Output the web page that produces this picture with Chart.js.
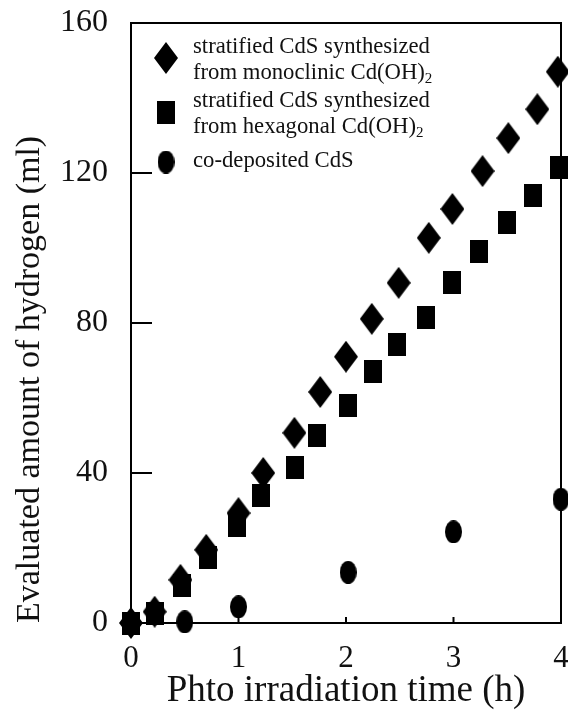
<!DOCTYPE html>
<html>
<head>
<meta charset="utf-8">
<script src="https://cdn.jsdelivr.net/npm/chart.js@4/dist/chart.umd.min.js"></script>
<style>
  html, body { margin: 0; padding: 0; background: #fff; }
  #wrap { width: 568px; height: 712px; }
</style>
</head>
<body>
<div id="wrap"><canvas id="chart" width="568" height="712"></canvas></div>
<script>
// values (time in h, hydrogen in ml)
const monoTime = [0, 0.22, 0.46, 0.7, 1.0, 1.23, 1.52, 1.76, 2.0, 2.24, 2.49, 2.77, 2.99, 3.27, 3.51, 3.78, 3.97];
const monoH2 = [0, 3, 11.5, 19.5, 29.3, 40, 50.7, 61.6, 71, 81.1, 90.7, 102.7, 110.4, 120.5, 129.3, 137, 147];
const hexTime = [0, 0.22, 0.47, 0.72, 0.99, 1.21, 1.53, 1.73, 2.02, 2.25, 2.47, 2.74, 2.99, 3.24, 3.5, 3.74, 3.98];
const hexH2 = [0, 2.5, 10.1, 17.6, 26.1, 34.1, 41.5, 50.1, 58.1, 67.2, 74.4, 81.6, 90.7, 99, 106.7, 114.1, 121.6];
const codepTime = [0, 0.5, 1.0, 2.02, 3.0, 4.0];
const codepH2 = [0, 0.3, 4.3, 13.5, 24.3, 33];

const seriesLabels = [
  "stratified CdS synthesized\nfrom monoclinic Cd(OH)₂",
  "stratified CdS synthesized\nfrom hexagonal Cd(OH)₂",
  "co-deposited CdS",
];
const xTicks = [0, 1, 2, 3, 4];
const yTicks = [0, 40, 80, 120, 160];

const SERIF = "'Liberation Serif', 'Times New Roman', serif";

function makeMarker(kind, w, h) {
  const c = document.createElement("canvas");
  c.width = w;
  c.height = h;
  const g = c.getContext("2d");
  g.fillStyle = "#000";
  g.beginPath();
  if (kind === "diamond") {
    g.moveTo(w / 2, 0);
    g.lineTo(w, h / 2);
    g.lineTo(w / 2, h);
    g.lineTo(0, h / 2);
    g.closePath();
  } else if (kind === "square") {
    g.rect(0, 0, w, h);
  } else {
    g.ellipse(w / 2, h / 2, w / 2, h / 2, 0, 0, Math.PI * 2);
  }
  g.fill();
  return c;
}

const diamond = makeMarker("diamond", 24, 32);
const square = makeMarker("square", 18, 23);
const ellipse = makeMarker("circle", 17, 23);

function pairs(xs, ys) {
  return xs.map((x, i) => ({ x: x, y: ys[i] }));
}

// text with "₂" drawn as a small lowered 2
function drawRich(ctx, text, x, y) {
  const parts = text.split("₂");
  let cx = x;
  parts.forEach((p, i) => {
    ctx.font = "22.7px " + SERIF;
    ctx.fillText(p, cx, y);
    cx += ctx.measureText(p).width;
    if (i < parts.length - 1) {
      ctx.font = "15px " + SERIF;
      ctx.fillText("2", cx, y + 4);
      cx += ctx.measureText("2").width;
    }
  });
}

const framePlugin = {
  id: "frame",
  beforeDatasetsDraw(chart) {
    const { ctx, chartArea: a, scales } = chart;
    ctx.save();
    ctx.strokeStyle = "#000";
    ctx.lineWidth = 2;
    ctx.strokeRect(a.left, a.top, a.right - a.left, a.bottom - a.top);
    // inward ticks
    ctx.beginPath();
    yTicks.slice(1, -1).forEach((v) => {
      const py = scales.y.getPixelForValue(v);
      ctx.moveTo(a.left, py);
      ctx.lineTo(a.left + 21, py);
    });
    xTicks.slice(1, -1).forEach((v) => {
      const px = scales.x.getPixelForValue(v);
      ctx.moveTo(px, a.bottom);
      ctx.lineTo(px, a.bottom - 6);
    });
    ctx.stroke();
    ctx.restore();
  },
  afterDraw(chart) {
    const { ctx, chartArea: a } = chart;
    ctx.save();
    ctx.fillStyle = "#111";
    ctx.textBaseline = "alphabetic";
    ctx.textAlign = "left";
    const markerY = [35, 89, 139];
    const textY = [30, 84, 144];
    chart.data.datasets.forEach((ds, i) => {
      const m = ds.pointStyle;
      ctx.drawImage(m, a.left + 35 - m.width / 2, a.top + markerY[i] - m.height / 2);
      ds.label.split("\n").forEach((line, j) => {
        drawRich(ctx, line, a.left + 62, a.top + textY[i] + j * 26);
      });
    });
    ctx.restore();
  },
};

new Chart(document.getElementById("chart").getContext("2d"), {
  type: "scatter",
  data: {
    datasets: [
      {
        label: seriesLabels[0],
        data: pairs(monoTime, monoH2),
        pointStyle: diamond,
        clip: false,
      },
      {
        label: seriesLabels[1],
        data: pairs(hexTime, hexH2),
        pointStyle: square,
        clip: false,
      },
      {
        label: seriesLabels[2],
        data: pairs(codepTime, codepH2),
        pointStyle: ellipse,
        clip: false,
      },
    ],
  },
  options: {
    responsive: false,
    animation: false,
    layout: { padding: { top: 23, right: 7, left: 0, bottom: 0 } },
    scales: {
      x: {
        type: "linear",
        min: 0,
        max: 4,
        afterBuildTicks: (s) => { s.ticks = xTicks.map((v) => ({ value: v })); },
        afterFit: (s) => {
          s.height = 89;
          s.paddingLeft = 0;
          s.paddingRight = 0;
        },
        grid: { display: false, drawTicks: false },
        border: { display: false },
        ticks: {
          padding: 17,
          color: "#111",
          font: { family: SERIF, size: 31 },
        },
        title: {
          display: true,
          text: "Phto irradiation time (h)",
          color: "#111",
          font: { family: SERIF, size: 37, lineHeight: 1.0 },
          padding: { top: 0, bottom: 2 },
        },
      },
      y: {
        min: 0,
        max: 160,
        afterBuildTicks: (s) => { s.ticks = yTicks.map((v) => ({ value: v })); },
        afterFit: (s) => {
          s.width = 131;
          s.paddingTop = 0;
          s.paddingBottom = 0;
        },
        grid: { display: false, drawTicks: false },
        border: { display: false },
        ticks: {
          padding: 23,
          color: "#111",
          font: { family: SERIF, size: 32 },
        },
        title: {
          display: true,
          text: "Evaluated amount of hydrogen (ml)",
          align: "start",
          color: "#111",
          font: { family: SERIF, size: 34, lineHeight: 1.2 },
          padding: { top: 10, bottom: 0 },
        },
      },
    },
    plugins: {
      legend: { display: false },
      tooltip: { enabled: false },
    },
  },
  plugins: [framePlugin],
});
</script>
</body>
</html>
